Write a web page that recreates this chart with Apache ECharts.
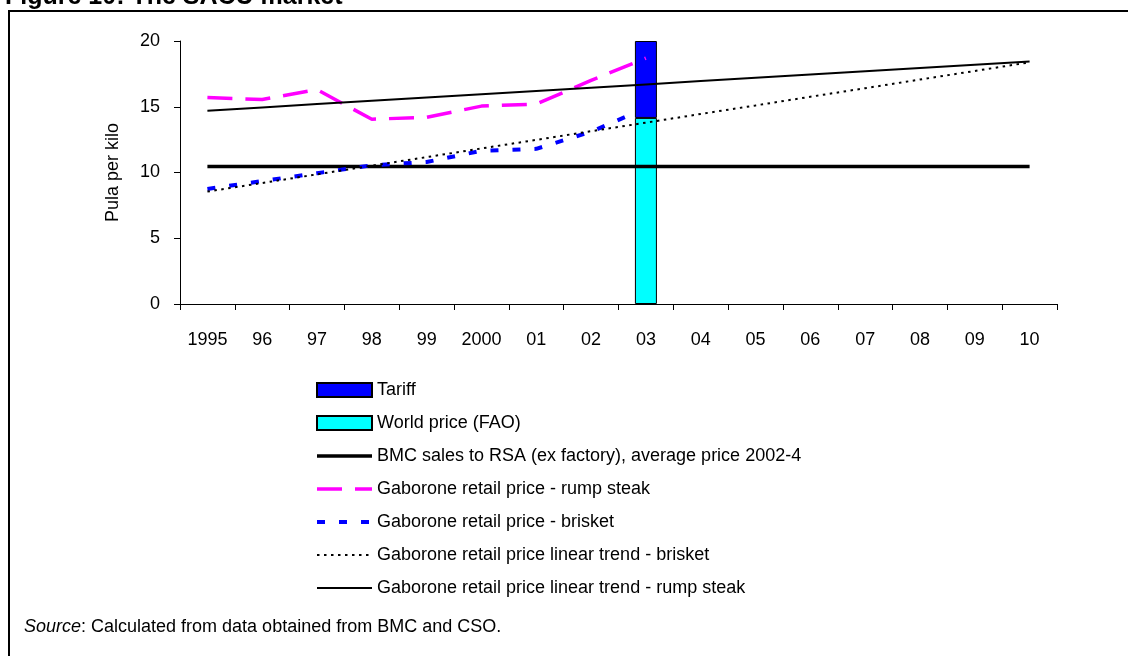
<!DOCTYPE html>
<html>
<head>
<meta charset="utf-8">
<script src="https://cdn.jsdelivr.net/npm/echarts@6/dist/echarts.min.js"></script>
<style>
  html, body { margin: 0; padding: 0; background: #fff; }
  #chart { width: 1128px; height: 656px; }
</style>
</head>
<body>
<div id="chart"></div>
<script>
// Years on the category axis
const years = ['1995', '96', '97', '98', '99', '2000', '01', '02', '03', '04', '05', '06', '07', '08', '09', '10'];

// 2003 comparison bar (Pula per kilo)
const worldPrice = [null, null, null, null, null, null, null, null, 14.15, null, null, null, null, null, null, null];
const tariff     = [null, null, null, null, null, null, null, null, 5.85, null, null, null, null, null, null, null];

// BMC sales to RSA, average 2002-4
const bmcSales = [10.45, 10.45, 10.45, 10.45, 10.45, 10.45, 10.45, 10.45, 10.45, 10.45, 10.45, 10.45, 10.45, 10.45, 10.45, 10.45];

// Gaborone retail prices
const rumpSteak = [15.7, 15.55, 16.3, 14.05, 14.2, 15.05, 15.2, 17.0, 18.7, null, null, null, null, null, null, null];
const brisket   = [8.75, 9.35, 9.95, 10.55, 10.8, 11.65, 11.8, 13.1, 14.9, null, null, null, null, null, null, null];

// Linear trends
const brisketTrend = [8.55, 9.2, 9.86, 10.52, 11.17, 11.83, 12.48, 13.14, 13.79, 14.45, 15.1, 15.76, 16.41, 17.07, 17.72, 18.38];
const rumpTrend    = [14.7, 14.95, 15.2, 15.45, 15.7, 15.95, 16.2, 16.45, 16.7, 16.95, 17.2, 17.45, 17.7, 17.95, 18.2, 18.45];

const FONT = '"Liberation Sans", Arial, sans-serif';

// Stroke styles shared by each line series and its legend entry
const STYLE_BMC     = { color: '#000', width: 3.5, type: 'solid' };
const STYLE_RUMP    = { color: '#FF00FF', width: 3.5, type: [25, 13] };
const STYLE_BRISKET = { color: '#0000FF', width: 4, type: [8, 14] };
const STYLE_BTREND  = { color: '#000', width: 2, type: [2.5, 4.5] };
const STYLE_RTREND  = { color: '#000', width: 2, type: 'solid' };

const chart = echarts.init(document.getElementById('chart'), null, { renderer: 'canvas' });

const lineBase = { type: 'line', symbol: 'none', smooth: false, silent: true, connectNulls: false };

// Line entries in the legend show only the stroke, no marker
const lineLegend = (name, ls) => ({ name: name, itemStyle: { opacity: 0 }, lineStyle: Object.assign({}, ls) });

chart.setOption({
  animation: false,
  backgroundColor: '#fff',
  textStyle: { fontFamily: FONT, color: '#000' },
  graphic: [
    {
      type: 'rect',
      shape: { x: 9, y: 11, width: 1140, height: 680 },
      style: { fill: 'none', stroke: '#000', lineWidth: 2 },
      silent: true
    },
    {
      type: 'text',
      x: 5, y: 10,
      style: {
        text: 'Figure 10: The SACU market',
        font: 'bold 25px ' + FONT,
        fill: '#000',
        verticalAlign: 'bottom'
      },
      silent: true
    },
    {
      type: 'text',
      x: 24, y: 627,
      style: {
        text: '{i|Source}: Calculated from data obtained from BMC and CSO.',
        font: '18px ' + FONT,
        fill: '#000',
        verticalAlign: 'middle',
        rich: {
          i: { fontStyle: 'italic', fontSize: 18, fontFamily: FONT, fill: '#000' }
        }
      },
      silent: true
    }
  ],
  grid: { left: 180, right: 71, top: 41, bottom: 352, containLabel: false },
  legend: {
    orient: 'vertical',
    left: 315,
    top: 381,
    padding: 0,
    itemWidth: 55,
    itemHeight: 14,
    itemGap: 15,
    selectedMode: false,
    textStyle: { fontFamily: FONT, fontSize: 18, color: '#000', lineHeight: 18 },
    data: [
      { name: 'Tariff', icon: 'rect' },
      { name: 'World price (FAO)', icon: 'rect' },
      lineLegend('BMC sales to RSA (ex factory), average price 2002-4', STYLE_BMC),
      lineLegend('Gaborone retail price - rump steak', STYLE_RUMP),
      lineLegend('Gaborone retail price - brisket', STYLE_BRISKET),
      lineLegend('Gaborone retail price linear trend - brisket', STYLE_BTREND),
      lineLegend('Gaborone retail price linear trend - rump steak', STYLE_RTREND)
    ]
  },
  xAxis: {
    type: 'category',
    data: years,
    boundaryGap: true,
    axisLine: { show: true, lineStyle: { color: '#000', width: 1 } },
    axisTick: { show: true, alignWithLabel: false, length: 6, lineStyle: { color: '#000' } },
    axisLabel: { fontFamily: FONT, fontSize: 18, color: '#000', margin: 27, interval: 0 },
    splitLine: { show: false }
  },
  yAxis: {
    type: 'value',
    min: 0, max: 20, interval: 5,
    name: 'Pula per kilo',
    nameLocation: 'middle',
    nameGap: 58,
    nameRotate: 90,
    nameTextStyle: { fontFamily: FONT, fontSize: 18, color: '#000' },
    axisLine: { show: true, lineStyle: { color: '#000', width: 1 } },
    axisTick: { show: true, length: 6, lineStyle: { color: '#000' } },
    axisLabel: { fontFamily: FONT, fontSize: 18, color: '#000', margin: 20 },
    splitLine: { show: false }
  },
  series: [
    {
      name: 'World price (FAO)', type: 'bar', stack: 'price', barWidth: 22, silent: true,
      data: worldPrice,
      itemStyle: { color: '#00FFFF', borderColor: '#000', borderWidth: 1 }
    },
    {
      name: 'Tariff', type: 'bar', stack: 'price', barWidth: 22, silent: true,
      data: tariff,
      itemStyle: { color: '#0000FF', borderColor: '#000', borderWidth: 1 }
    },
    Object.assign({}, lineBase, {
      name: 'BMC sales to RSA (ex factory), average price 2002-4',
      data: bmcSales,
      lineStyle: STYLE_BMC,
      itemStyle: { color: STYLE_BMC.color }
    }),
    Object.assign({}, lineBase, {
      name: 'Gaborone retail price - rump steak',
      data: rumpSteak,
      lineStyle: STYLE_RUMP,
      itemStyle: { color: STYLE_RUMP.color }
    }),
    Object.assign({}, lineBase, {
      name: 'Gaborone retail price - brisket',
      data: brisket,
      lineStyle: STYLE_BRISKET,
      itemStyle: { color: STYLE_BRISKET.color }
    }),
    Object.assign({}, lineBase, {
      name: 'Gaborone retail price linear trend - brisket',
      data: brisketTrend,
      lineStyle: STYLE_BTREND,
      itemStyle: { color: STYLE_BTREND.color }
    }),
    Object.assign({}, lineBase, {
      name: 'Gaborone retail price linear trend - rump steak',
      data: rumpTrend,
      lineStyle: STYLE_RTREND,
      itemStyle: { color: STYLE_RTREND.color }
    })
  ]
});
</script>
</body>
</html>
